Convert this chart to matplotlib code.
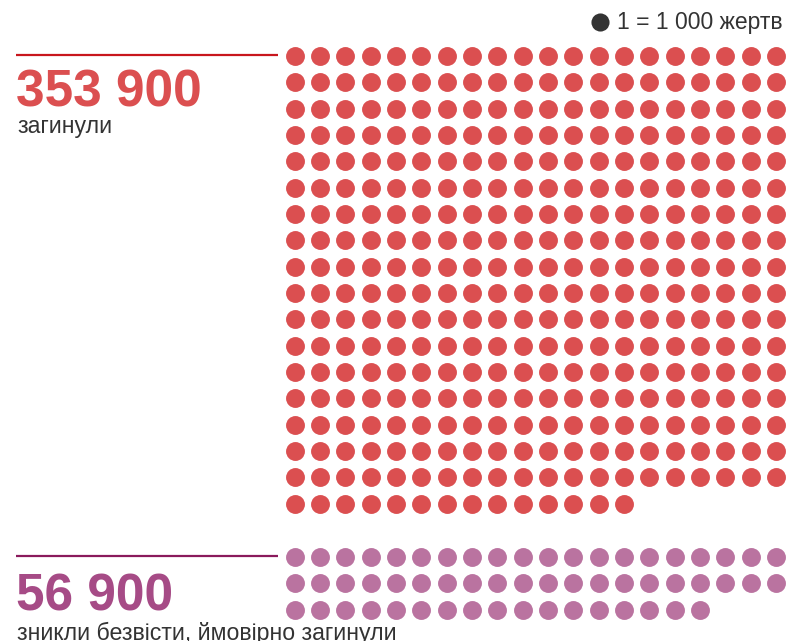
import numpy as np
import matplotlib.pyplot as plt

plt.rcParams['font.family'] = ['Liberation Sans', 'DejaVu Sans']

# data
values = [353900, 56900]
labels = ["загинули", "зникли безвісти, ймовірно загинули"]
per_dot = 1000
legend_text = "1 = 1 000 жертв"

dot_colors = ['#DB4F50', '#BA73A0']
num_colors = ['#DB4F50', '#A64B86']
line_colors = ['#C8161D', '#8A1A5C']

W, H = 786, 641
fig = plt.figure(figsize=(W / 100, H / 100), dpi=100)
ax = fig.add_axes([0, 0, 1, 1])
ax.set_xlim(0, W)
ax.set_ylim(H, 0)
ax.axis('off')

ncols = 20
x0, dx = 294.8, 25.33
dy = 26.35
block_top = [55.8, 557.0]
num_base = [106.5, 610.5]   # baselines of the big numbers
lab_base = [133.5, 640.0]   # baselines of the captions
dot_size = 185

for i, v in enumerate(values):
    n = int(round(v / per_dot))
    idx = np.arange(n)
    xs = x0 + (idx % ncols) * dx
    ys = block_top[i] + (idx // ncols) * dy
    ax.scatter(xs, ys, s=dot_size, color=dot_colors[i], linewidths=0)

    y = block_top[i]
    ax.plot([16, 278], [y - 0.8, y - 0.8], color=line_colors[i], lw=1.6,
            solid_capstyle='butt')
    num = f"{v:,}".replace(",", " ")
    ax.text(16, num_base[i], num, fontsize=37, fontweight='bold',
            color=num_colors[i], ha='left', va='baseline')
    ax.text(17, lab_base[i], labels[i], fontsize=16.7, color='#333333',
            ha='left', va='baseline')

# legend
ax.scatter([599.5], [21.7], s=170, color='#333333', linewidths=0)
ax.text(783, 29, legend_text, fontsize=16.5, color='#333333',
        ha='right', va='baseline')

fig.savefig('out.png', dpi=100)
